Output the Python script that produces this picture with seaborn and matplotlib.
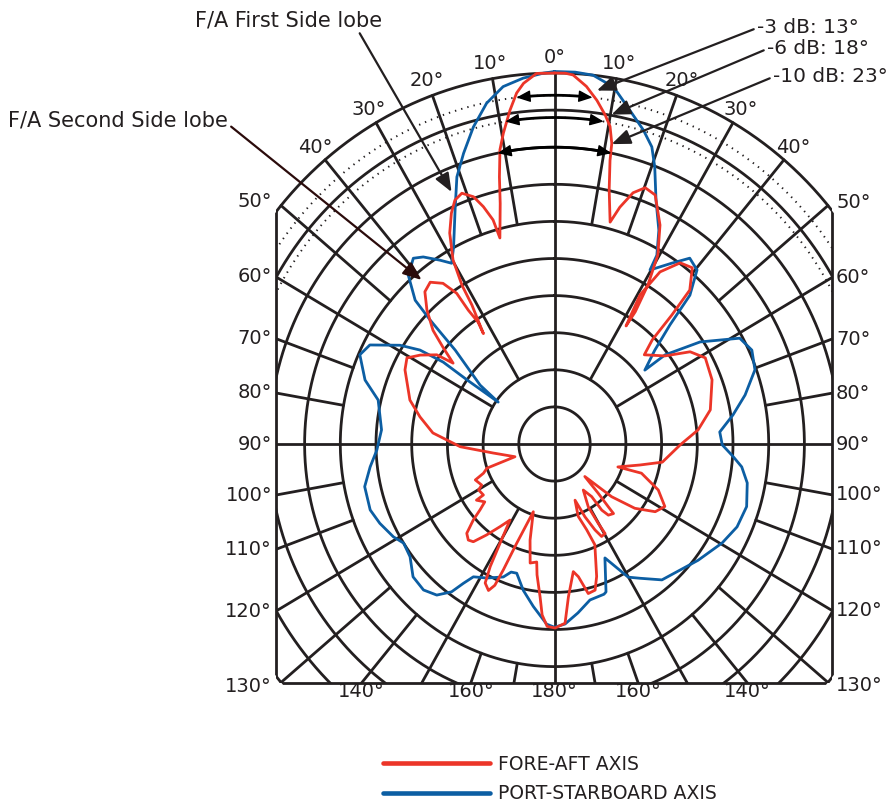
## Transducer beam pattern: fore-aft vs port-starboard axis on a dB polar grid.
import numpy as np
import pandas as pd
import matplotlib.pyplot as plt
import seaborn as sns
from matplotlib.patches import Rectangle
from matplotlib.lines import Line2D

# Angle in degrees clockwise from 0 (on axis), level in dB relative to peak.
fa_angle = [0.0, 1.7, 3.0, 5.3, 7.3, 9.1, 10.3, 11.2, 11.5, 12.6, 14.6, 16.0, 18.0, 20.2, 22.8,
            26.6, 29.6, 31.4, 32.4, 32.2, 30.8, 32.5, 35.8, 39.1, 42.4, 43.4, 44.3, 46.3, 52.5,
            56.8, 61.2, 68.6, 78.1, 84.6, 90.4, 99.2, 103.3, 109.2, 107.9, 113.1, 118.6, 122.9,
            127.6, 131.6, 135.9, 137.3, 138.3, 138.6, 141.8, 143.4, 143.7, 147.0, 150.8, 150.2,
            149.6, 152.1, 153.9, 156.5, 159.2, 161.2, 158.7, 157.4, 161.7, 163.9, 166.8, 169.4,
            171.3, 174.6, 176.5, 179.8, 182.4, 184.3, 185.6, 187.9, 188.9, 192.0, 194.8, 198.0,
            201.6, 202.9, 203.7, 205.1, 207.4, 208.6, 209.7, 211.3, 214.4, 217.8, 220.8, 223.0,
            225.6, 228.0, 229.6, 231.4, 235.3, 235.4, 239.8, 241.5, 246.4, 248.4, 251.0, 252.8,
            262.0, 268.4, 275.0, 281.0, 286.3, 295.5, 299.3, 302.5, 306.1, 307.5, 309.9, 312.0,
            315.3, 318.5, 321.4, 324.2, 326.0, 326.2, 326.9, 326.2, 328.3, 328.8, 330.2, 332.7,
            335.1, 337.0, 339.0, 341.2, 342.7, 344.1, 344.6, 346.8, 347.9, 349.1, 350.3, 352.1,
            353.6, 354.9, 357.1, 360.0]
fa_level = [0.0, 0.0, -0.2, -1.6, -3.3, -5.1, -6.5, -8.7, -11.0, -14.9, -19.1, -16.8, -14.4, -13.2,
            -13.6, -17.0, -20.7, -24.9, -28.9, -31.2, -26.6, -22.5, -19.9, -19.4, -21.9, -26.1,
            -30.4, -32.6, -30.5, -27.3, -25.9, -26.3, -27.7, -29.8, -32.4, -34.7, -37.7, -40.6,
            -37.2, -34.2, -32.4, -33.2, -35.8, -39.3, -43.9, -41.0, -38.7, -37.5, -37.8, -38.9,
            -41.2, -42.6, -40.3, -37.7, -36.0, -35.9, -37.1, -39.3, -41.9, -39.7, -37.6, -35.3,
            -31.2, -29.5, -29.3, -31.8, -32.6, -29.3, -25.8, -25.2, -25.4, -26.9, -29.3, -32.2,
            -33.9, -33.6, -36.6, -40.4, -35.6, -31.6, -29.2, -28.2, -28.9, -31.2, -34.6, -38.0,
            -36.5, -34.5, -32.6, -32.3, -32.8, -34.7, -36.3, -37.5, -36.7, -37.9, -37.7, -38.4,
            -37.9, -39.3, -40.0, -44.2, -41.3, -36.8, -32.9, -30.8, -28.9, -26.8, -26.3, -27.7,
            -29.6, -32.1, -29.6, -27.1, -24.6, -22.6, -22.1, -23.3, -25.5, -28.3, -30.4, -32.1,
            -28.0, -25.0, -21.4, -18.0, -15.7, -14.3, -13.8, -14.8, -16.5, -18.6, -21.2, -16.7,
            -13.2, -9.6, -7.5, -4.6, -2.4, -1.2, 0.0, 0.0]

ps_angle = [0.0, 3.3, 6.2, 8.5, 10.4, 13.2, 16.4, 18.8, 20.6, 23.4, 26.9, 29.4, 29.7, 34.0, 37.1,
            40.4, 43.4, 45.2, 48.0, 51.8, 52.2, 56.0, 61.2, 65.4, 70.4, 76.1, 81.1, 86.0, 90.3,
            93.7, 96.7, 101.0, 107.4, 113.6, 119.6, 127.9, 140.6, 146.5, 150.1, 155.3, 160.1,
            161.1, 166.7, 171.8, 176.5, 180.0, 182.6, 187.7, 192.5, 196.9, 199.4, 201.8, 207.7,
            212.4, 214.2, 215.9, 219.0, 223.0, 227.9, 233.1, 237.7, 241.0, 246.4, 251.0, 257.8,
            263.2, 268.1, 274.5, 283.5, 288.0, 293.8, 297.3, 301.6, 303.9, 305.3, 305.2, 305.6,
            307.3, 312.3, 313.8, 314.8, 318.0, 321.7, 323.9, 327.1, 329.4, 332.0, 336.2, 339.2,
            342.0, 345.1, 348.3, 351.5, 354.9, 358.2, 360.0]
ps_level = [0.2, 0.2, 0.0, -0.8, -1.7, -3.8, -5.9, -7.7, -10.1, -14.2, -17.7, -20.8, -23.0, -20.6,
            -18.6, -19.2, -22.4, -27.2, -31.1, -33.9, -30.4, -25.4, -20.4, -19.6, -20.2, -22.5,
            -24.7, -26.8, -26.5, -25.0, -23.6, -22.5, -21.8, -22.1, -23.0, -24.5, -26.3, -28.3,
            -29.3, -33.1, -28.8, -28.6, -28.4, -27.0, -25.7, -25.3, -25.7, -27.9, -29.8, -31.8,
            -31.7, -30.7, -29.6, -28.8, -27.3, -25.4, -23.8, -23.1, -23.3, -24.7, -25.0, -24.2,
            -23.3, -22.7, -22.8, -24.0, -25.1, -25.7, -24.6, -22.1, -20.2, -20.9, -24.6, -27.3,
            -30.9, -35.0, -40.3, -36.9, -31.2, -25.9, -22.5, -19.4, -18.1, -18.8, -20.5, -21.7,
            -19.9, -15.5, -11.5, -8.8, -5.8, -3.1, -1.3, -0.5, 0.0, 0.2]

ring_db = [-45, -40, -35, -30, -25, -20, -15, -10, -5, 0]
dotted_db = [-3, -6]
beam_db = [-3, -6, -10]
beam_deg = [13, 18, 23]
beam_tip_angle = [7.1, 10.2, 11.2]
beam_tip_db = [-2.0, -4.9, -8.8]
lobe_text = ['F/A First Side lobe', 'F/A Second Side lobe']
lobe_tip_angle = [337.0, 319.9]
lobe_tip_db = [-13.1, -21.1]
series_names = ['FORE-AFT AXIS', 'PORT-STARBOARD AXIS']

sns.set_style('white')
plt.rcParams['font.family'] = ['DejaVu Sans']

W, H = 892, 805
INK = '#231f20'
RED = '#ec3528'
BLUE = '#0c5ea3'

fig = plt.figure(figsize=(W / 100, H / 100), dpi=100)
cx, cy, rx, ry = 554.5, 444, 357, 371
ax = fig.add_axes([(cx - rx) / W, (H - cy - ry) / H, 2 * rx / W, 2 * ry / H], projection='polar')
ax.set_aspect('auto')
ax.set_theta_zero_location('N')
ax.set_theta_direction(-1)
ax.axis('off')

# Square frame that cuts the circle at the sides and bottom.
x_left, x_right, y_bottom = 276, 832, 683
clip_box = Rectangle((x_left / W, (H - y_bottom) / H), (x_right - x_left) / W, 1.0,
                     transform=fig.transFigure)


def clip(lines):
    for ln in lines:
        ln.set_clip_path(clip_box)


t = np.linspace(0, 2 * np.pi, 1441)
for lev in ring_db:
    clip(ax.plot(t, np.full_like(t, lev), color=INK, lw=2.0, zorder=1))
t_top = np.linspace(-np.pi / 2, np.pi / 2, 721)
for lev in dotted_db:
    clip(ax.plot(t_top, np.full_like(t_top, lev), color=INK, lw=1.4, ls=(0, (0.7, 2.6)), zorder=1))

for a in range(0, 360, 10):
    start = -50 if a % 90 == 0 else (-40 if a % 30 == 0 else -20)
    clip(ax.plot([np.deg2rad(a)] * 2, [start, 0], color=INK, lw=2.0, zorder=1))

frame = Rectangle((x_left / W, (H - y_bottom) / H), (x_right - x_left) / W, 1.0,
                  transform=fig.transFigure, fill=False, ec=INK, lw=2.0, zorder=1)
fig.add_artist(frame)
frame.set_clip_path(ax.patch)

# Beam patterns.
df_fa = pd.DataFrame({'theta': np.deg2rad(fa_angle), 'level': fa_level})
df_ps = pd.DataFrame({'theta': np.deg2rad(ps_angle), 'level': ps_level})
sns.lineplot(data=df_ps, x='theta', y='level', sort=False, estimator=None, color=BLUE, lw=2.0, ax=ax, zorder=3)
sns.lineplot(data=df_fa, x='theta', y='level', sort=False, estimator=None, color=RED, lw=2.0, ax=ax, zorder=4)
clip(ax.lines[-2:])
ax.set_ylim(-50, 0)

# Beamwidth arcs with arrowheads at both ends.
for lev, bw in zip(beam_db, beam_deg):
    h = bw / 2
    ta = np.deg2rad(np.linspace(-h + 1, h - 1, 80))
    ax.plot(ta, np.full_like(ta, lev), color='black', lw=2.0, zorder=5)
    for s in (-1, 1):
        ax.annotate('', xy=(np.deg2rad(s * h), lev), xytext=(np.deg2rad(s * (h - 2.5)), lev),
                    arrowprops=dict(arrowstyle='-|>,head_length=0.7,head_width=0.3', color='black',
                                    lw=1.0, shrinkA=0, shrinkB=0, mutation_scale=12), zorder=5)

arrow = dict(arrowstyle='-|>,head_length=0.75,head_width=0.3', color=INK, lw=1.6,
             shrinkA=0, shrinkB=0, mutation_scale=15)
beam_text_pos = [(757, 27), (767, 48), (773, 76)]
for lev, bw, ta, tl, (px, py) in zip(beam_db, beam_deg, beam_tip_angle, beam_tip_db, beam_text_pos):
    ax.annotate(f'{lev} dB: {bw}°', xy=(np.deg2rad(ta), tl), xytext=(px, H - py),
                textcoords='figure pixels', ha='left', va='center', fontsize=14.5, color=INK,
                annotation_clip=False, arrowprops=dict(arrow, relpos=(0, 0.45)), zorder=6)

lobe_text_pos = [(195, 20), (8, 120)]
lobe_relpos = [(0.87, 0.0), (1.0, 0.3)]
lobe_color = [INK, '#2b0b0b']
for txt, ta, tl, (px, py), rp, col in zip(lobe_text, lobe_tip_angle, lobe_tip_db, lobe_text_pos,
                                          lobe_relpos, lobe_color):
    ax.annotate(txt, xy=(np.deg2rad(ta), tl), xytext=(px, H - py), textcoords='figure pixels',
                ha='left', va='center', fontsize=15, color=INK, annotation_clip=False,
                arrowprops=dict(arrow, color=col, relpos=rp), zorder=6)


# Angle labels where the spokes meet the frame.
def edge_point(a, x_edge=None, y_edge=None):
    p0 = ax.transData.transform((np.deg2rad(a), -50))
    p1 = ax.transData.transform((np.deg2rad(a), 0))
    if x_edge is not None:
        k = (x_edge - p0[0]) / (p1[0] - p0[0])
    else:
        k = (y_edge - p0[1]) / (p1[1] - p0[1])
    return p0 + k * (p1 - p0)


for a in range(0, 50, 10):
    for sa in {a, (360 - a) % 360}:
        ax.text(np.deg2rad(sa), 2.1, f'{a}°', ha='center', va='center', fontsize=14, color=INK,
                clip_on=False)
for a in range(50, 140, 10):
    yl = edge_point(360 - a, x_edge=x_left)[1]
    yr = edge_point(a, x_edge=x_right)[1]
    fig.text((x_left - 4) / W, yl / H, f'{a}°', ha='right', va='center', fontsize=14, color=INK)
    fig.text((x_right + 4) / W, yr / H, f'{a}°', ha='left', va='center', fontsize=14, color=INK)
for a in (140, 160, 180):
    for sa in {a, 360 - a}:
        xb = edge_point(sa, y_edge=H - y_bottom)[0]
        fig.text(xb / W, (H - 691) / H, f'{a}°', ha='center', va='center', fontsize=14, color=INK)

handles = [Line2D([], [], color=RED, lw=3.3), Line2D([], [], color=BLUE, lw=3.3)]
fig.legend(handles, series_names, loc='upper left', bbox_to_anchor=(383 / W, (H - 755) / H),
           frameon=False, fontsize=13.5, labelcolor=INK, handlelength=5.7, handletextpad=0.43,
           labelspacing=0.55, borderpad=0, borderaxespad=0)

plt.savefig('out.png', dpi=100)
